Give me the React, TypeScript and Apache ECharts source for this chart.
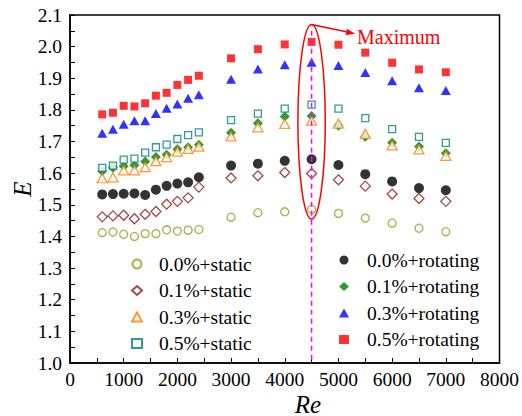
import { useEffect, useRef } from "react";
import * as echarts from "echarts";

// Reynolds numbers at which E was measured
const RE = [600, 800, 1000, 1200, 1400, 1600, 1800, 2000, 2200, 2400, 3000, 3500, 4000, 4500, 5000, 5500, 6000, 6500, 7000];

// Static cases
const E_STATIC_00 = [1.412, 1.414, 1.407, 1.400, 1.409, 1.409, 1.421, 1.417, 1.420, 1.422, 1.461, 1.475, 1.478, 1.486, 1.473, 1.458, 1.442, 1.426, 1.415];
const E_STATIC_01 = [1.462, 1.465, 1.467, 1.456, 1.470, 1.479, 1.502, 1.511, 1.522, 1.556, 1.585, 1.592, 1.602, 1.599, 1.579, 1.559, 1.534, 1.520, 1.511];
const E_STATIC_03 = [1.584, 1.587, 1.609, 1.609, 1.619, 1.638, 1.651, 1.668, 1.677, 1.684, 1.716, 1.745, 1.756, 1.766, 1.757, 1.724, 1.688, 1.675, 1.655];
const E_STATIC_05 = [1.617, 1.624, 1.643, 1.646, 1.665, 1.682, 1.690, 1.708, 1.720, 1.729, 1.768, 1.788, 1.804, 1.817, 1.804, 1.774, 1.739, 1.715, 1.696];

// Rotating cases
const E_ROT_00 = [1.533, 1.534, 1.535, 1.536, 1.531, 1.548, 1.560, 1.567, 1.571, 1.587, 1.624, 1.630, 1.639, 1.644, 1.626, 1.597, 1.574, 1.553, 1.546];
const E_ROT_01 = [1.606, 1.617, 1.622, 1.625, 1.637, 1.651, 1.658, 1.676, 1.682, 1.690, 1.728, 1.758, 1.779, 1.781, 1.750, 1.715, 1.696, 1.684, 1.663];
const E_ROT_03 = [1.726, 1.739, 1.755, 1.766, 1.766, 1.789, 1.805, 1.819, 1.837, 1.848, 1.897, 1.929, 1.943, 1.951, 1.940, 1.918, 1.892, 1.870, 1.861];
const E_ROT_05 = [1.786, 1.791, 1.813, 1.811, 1.821, 1.845, 1.854, 1.879, 1.895, 1.908, 1.963, 1.992, 2.007, 2.015, 2.006, 1.981, 1.949, 1.928, 1.919];

const STATIC_NAMES = ["0.0%+static", "0.1%+static", "0.3%+static", "0.5%+static"];
const ROT_NAMES = ["0.0%+rotating", "0.1%+rotating", "0.3%+rotating", "0.5%+rotating"];

// Peak marker: Re of the maximum and the vertical extent of the highlight
const PEAK_RE = 4500;
const PEAK_LINE = [2.05, 1.0];
const HIGHLIGHT = { top: 2.07, bottom: 1.455, halfWidthRe: 255 };
const LABEL_AT = [5310, 2.041];
const PEAK_LABEL = "Maximum";

const SERIF = '"Liberation Serif", "Times New Roman", serif';

type Look = { symbol: string; size: number | number[]; color: string; hollow: boolean };

const ROT_LOOK: Look[] = [
  { symbol: "circle", size: 10, color: "#000000", hollow: false },
  { symbol: "diamond", size: 10, color: "#008000", hollow: false },
  { symbol: "triangle", size: [10, 9], color: "#0000ff", hollow: false },
  { symbol: "rect", size: 8, color: "#ff0000", hollow: false },
];
const STATIC_LOOK: Look[] = [
  { symbol: "circle", size: 8, color: "#999922", hollow: true },
  { symbol: "diamond", size: 10, color: "#8b1a1a", hollow: true },
  { symbol: "triangle", size: [10, 9], color: "#ff8000", hollow: true },
  { symbol: "rect", size: 7, color: "#008080", hollow: true },
];

function makeSeries(name: string, values: number[], look: Look) {
  return {
    type: "scatter",
    name,
    data: RE.map((re, i) => [re, values[i]]),
    symbol: look.symbol,
    symbolSize: look.size,
    itemStyle: look.hollow
      ? { color: "#ffffff", borderColor: look.color, borderWidth: 1.3 }
      : { color: look.color, borderWidth: 0 },
    emphasis: { disabled: true },
  };
}

export default function App() {
  const ref = useRef<HTMLDivElement>(null);

  useEffect(() => {
    const chart = echarts.init(ref.current!, null, { renderer: "svg" });

    const axisCommon = {
      axisLine: { show: true, lineStyle: { color: "#000", width: 1.5 } },
      axisTick: { show: true, inside: true, length: 5, lineStyle: { color: "#000", width: 1 } },
      minorTick: { show: true, splitNumber: 2, length: 5, lineStyle: { color: "#000", width: 1 } },
      splitLine: { show: false },
      axisLabel: { color: "#000", fontFamily: SERIF, fontSize: 19.5 },
    };

    const legendCommon = {
      orient: "vertical",
      padding: 0,
      itemWidth: 10,
      itemHeight: 9,
      itemGap: 6.5,
      selectedMode: false,
      symbolKeepAspect: true,
    };

    chart.setOption({
      animation: false,
      backgroundColor: "#ffffff",
      grid: {
        left: 70,
        right: 21,
        top: 15,
        bottom: 53,
        show: true,
        borderColor: "#000",
        borderWidth: 1.5,
        backgroundColor: "transparent",
      },
      xAxis: {
        type: "value",
        min: 0,
        max: 8000,
        interval: 1000,
        ...axisCommon,
        axisLabel: { ...axisCommon.axisLabel, margin: 6, formatter: (v: number) => String(v) },
      },
      yAxis: {
        type: "value",
        min: 1.0,
        max: 2.1,
        interval: 0.1,
        ...axisCommon,
        axisLabel: {
          ...axisCommon.axisLabel,
          margin: 8,
          formatter: (v: number) => v.toFixed(1),
        },
      },
      legend: [
        {
          ...legendCommon,
          data: STATIC_NAMES,
          left: 131,
          top: 254,
          textStyle: {
            color: "#000",
            fontFamily: SERIF,
            fontSize: 19.5,
            lineHeight: 20,
            padding: [0, 0, 0, 12],
          },
        },
        {
          ...legendCommon,
          data: ROT_NAMES,
          left: 339,
          top: 250,
          textStyle: {
            color: "#000",
            fontFamily: SERIF,
            fontSize: 19.5,
            lineHeight: 20,
            padding: [0, 0, 0, 13],
          },
        },
      ],
      series: [
        makeSeries(ROT_NAMES[0], E_ROT_00, ROT_LOOK[0]),
        makeSeries(ROT_NAMES[1], E_ROT_01, ROT_LOOK[1]),
        makeSeries(ROT_NAMES[2], E_ROT_03, ROT_LOOK[2]),
        makeSeries(ROT_NAMES[3], E_ROT_05, ROT_LOOK[3]),
        makeSeries(STATIC_NAMES[0], E_STATIC_00, STATIC_LOOK[0]),
        makeSeries(STATIC_NAMES[1], E_STATIC_01, STATIC_LOOK[1]),
        makeSeries(STATIC_NAMES[2], E_STATIC_03, STATIC_LOOK[2]),
        makeSeries(STATIC_NAMES[3], E_STATIC_05, STATIC_LOOK[3]),
        {
          type: "line",
          name: "peak",
          data: PEAK_LINE.map((e) => [PEAK_RE, e]),
          symbol: "none",
          z: 10,
          silent: true,
          lineStyle: { color: "#ff00ff", width: 1.5, type: [5, 4] },
        },
      ],
    });

    // Highlight ellipse, arrow and label placed through the grid's coordinate system
    const px = (re: number, e: number) =>
      chart.convertToPixel({ gridIndex: 0 }, [re, e]) as number[];
    const top = px(PEAK_RE, HIGHLIGHT.top);
    const bottom = px(PEAK_RE, HIGHLIGHT.bottom);
    const side = px(PEAK_RE + HIGHLIGHT.halfWidthRe, HIGHLIGHT.top);
    const cx = top[0];
    const cy = (top[1] + bottom[1]) / 2;
    const rx = side[0] - cx;
    const ry = (bottom[1] - top[1]) / 2;

    const tip = px(LABEL_AT[0], LABEL_AT[1]);
    const dx = tip[0] - top[0];
    const dy = tip[1] - top[1];
    const len = Math.hypot(dx, dy);
    const ux = dx / len;
    const uy = dy / len;
    const headLen = 9;
    const headHalf = 3.2;
    const base = [tip[0] - ux * headLen, tip[1] - uy * headLen];

    chart.setOption({
      graphic: [
        {
          type: "ellipse",
          z: 100,
          silent: true,
          shape: { cx, cy, rx, ry },
          style: { fill: "none", stroke: "#ff0000", lineWidth: 1.5 },
        },
        {
          type: "line",
          z: 100,
          silent: true,
          shape: { x1: top[0], y1: top[1], x2: base[0], y2: base[1] },
          style: { stroke: "#ff0000", lineWidth: 1.5 },
        },
        {
          type: "polygon",
          z: 100,
          silent: true,
          shape: {
            points: [
              [tip[0], tip[1]],
              [base[0] - uy * headHalf, base[1] + ux * headHalf],
              [base[0] + uy * headHalf, base[1] - ux * headHalf],
            ],
          },
          style: { fill: "#ff0000" },
        },
        {
          type: "text",
          z: 100,
          silent: true,
          x: tip[0] + 2,
          y: tip[1] + 3,
          style: {
            text: PEAK_LABEL,
            fill: "#ff0000",
            font: `20px ${SERIF}`,
            align: "left",
            verticalAlign: "middle",
          },
        },
        {
          type: "text",
          silent: true,
          x: 308,
          y: 404,
          style: {
            text: "Re",
            fill: "#000",
            font: `italic 25px ${SERIF}`,
            align: "center",
            verticalAlign: "middle",
          },
        },
        {
          type: "text",
          silent: true,
          x: 22,
          y: 189,
          rotation: Math.PI / 2,
          style: {
            text: "E",
            fill: "#000",
            font: `italic 25px ${SERIF}`,
            align: "center",
            verticalAlign: "middle",
          },
        },
      ],
    });

    return () => chart.dispose();
  }, []);

  return (
    <div
      ref={ref}
      style={{ position: "fixed", left: 0, top: 0, width: 522, height: 416 }}
    />
  );
}
